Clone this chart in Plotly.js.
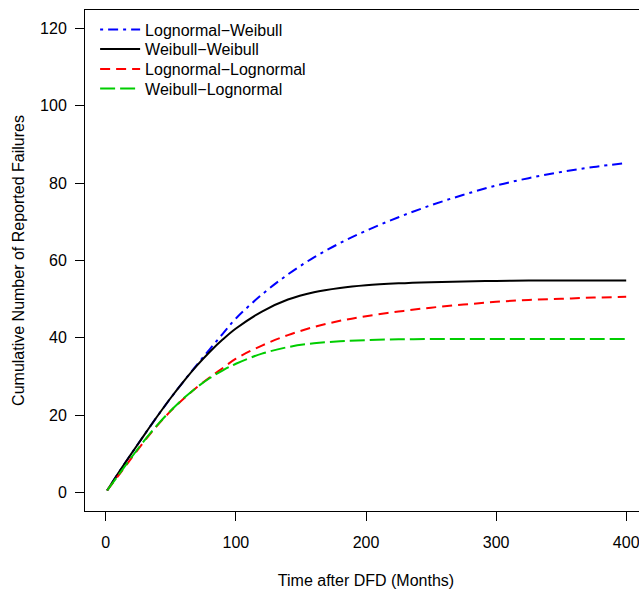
<!DOCTYPE html>
<html>
<head>
<meta charset="utf-8">
<script src="https://cdn.plot.ly/plotly-3.0.1.min.js"></script>
<style>
html, body { margin: 0; padding: 0; overflow: hidden; background: #fff; }
#chart { width: 700px; height: 592px; }
</style>
</head>
<body>
<div id="chart"></div>
<script>
// Months after DFD
const months = [1, 10, 20, 30, 40, 50, 60, 70, 80, 90, 100, 120, 140, 160, 180, 200, 225, 250, 275, 300, 325, 350, 375, 400];

const seriesNames = ["Lognormal\u2212Weibull", "Weibull\u2212Weibull", "Lognormal\u2212Lognormal", "Weibull\u2212Lognormal"];

const lognormalWeibull  = [0.5, 5.2, 10.2, 15.1, 19.9, 24.5, 28.8, 33.0, 37.1, 41.1, 45.0, 51.2, 56.4, 60.8, 64.5, 67.7, 71.2, 74.3, 77.0, 79.4, 81.3, 82.9, 84.2, 85.2];
const weibullWeibull    = [0.5, 5.2, 10.2, 15.1, 19.9, 24.5, 28.8, 32.8, 36.4, 39.6, 42.4, 46.8, 49.9, 51.8, 52.9, 53.6, 54.1, 54.4, 54.6, 54.7, 54.8, 54.8, 54.8, 54.8];
const lognormalLognormal= [0.5, 4.5, 9.0, 13.4, 17.5, 21.1, 24.3, 27.2, 29.8, 32.2, 34.6, 38.0, 40.7, 42.8, 44.4, 45.6, 46.8, 47.8, 48.6, 49.3, 49.8, 50.1, 50.4, 50.6];
const weibullLognormal  = [0.5, 4.6, 9.2, 13.6, 17.6, 21.2, 24.4, 27.2, 29.6, 31.6, 33.3, 35.9, 37.6, 38.6, 39.1, 39.4, 39.6, 39.7, 39.7, 39.7, 39.7, 39.7, 39.7, 39.7];

const xTicks = [0, 100, 200, 300, 400];
const yTicks = [0, 20, 40, 60, 80, 100, 120];

const FONT = "Liberation Sans, Arial, Helvetica, sans-serif";

const traces = [
  {x: months, y: lognormalWeibull, name: seriesNames[0], mode: "lines", legend: "legend",
   line: {color: "#0000FF", width: 2, dash: "3px,5px,10px,5px", shape: "spline"}},
  {x: months, y: weibullWeibull, name: seriesNames[1], mode: "lines", legend: "legend2",
   line: {color: "#000000", width: 2, dash: "solid", shape: "spline"}},
  {x: months, y: lognormalLognormal, name: seriesNames[2], mode: "lines", legend: "legend3",
   line: {color: "#FF0000", width: 2, dash: "10px,6px", shape: "spline"}},
  {x: months, y: weibullLognormal, name: seriesNames[3], mode: "lines", legend: "legend4",
   line: {color: "#00CD00", width: 2, dash: "15px,5px", shape: "spline"}}
];

const axisCommon = {
  showgrid: false, zeroline: false, showline: true, mirror: true,
  linecolor: "#000", linewidth: 1, ticks: "outside", ticklen: 9,
  tickwidth: 1, tickcolor: "#000", tickfont: {family: FONT, size: 16, color: "#000"}
};

function legendAt(y) {
  return {x: 0.018, y: y, xanchor: "left", yanchor: "top", itemwidth: 40,
          bgcolor: "rgba(0,0,0,0)", borderwidth: 0,
          font: {family: FONT, size: 16, color: "#000"}};
}

const layout = {
  width: 700, height: 592,
  margin: {l: 85, r: 53, t: 10, b: 81, pad: 0},
  paper_bgcolor: "#fff", plot_bgcolor: "#fff",
  font: {family: FONT, size: 16, color: "#000"},
  showlegend: true,
  legend: legendAt(0.995),
  legend2: legendAt(0.956),
  legend3: legendAt(0.916),
  legend4: legendAt(0.877),
  xaxis: Object.assign({}, axisCommon, {
    range: [-16, 416], tickvals: xTicks, ticktext: xTicks.map(String),
    ticklabelstandoff: 8,
    title: {text: "Time after DFD (Months)", font: {family: FONT, size: 16}, standoff: 24}
  }),
  yaxis: Object.assign({}, axisCommon, {
    range: [-4.8, 124.8], tickvals: yTicks, ticktext: yTicks.map(String),
    ticklabelstandoff: 5,
    title: {text: "Cumulative Number of Reported Failures", font: {family: FONT, size: 16}, standoff: 11}
  })
};

Plotly.newPlot("chart", traces, layout, {staticPlot: true, displayModeBar: false});
</script>
</body>
</html>
